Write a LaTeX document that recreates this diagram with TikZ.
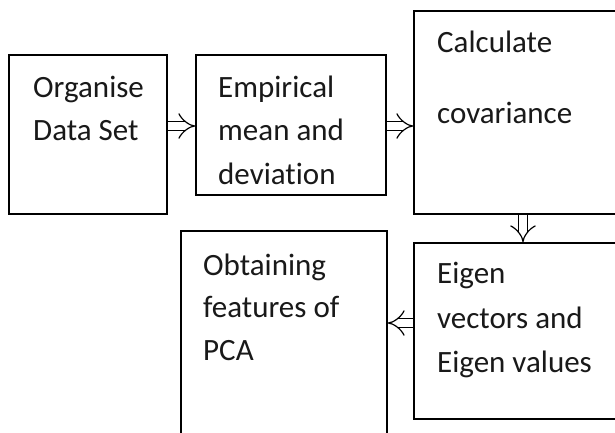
\documentclass[tikz,border=0pt]{standalone}
\usepackage{fontspec}
\setmainfont[Ligatures=NoCommon]{Carlito}
\usetikzlibrary{arrows.meta}
\begin{document}
\begin{tikzpicture}[x=1pt,y=-1pt,
  box/.style={draw=black, line width=1.6pt, rectangle, inner sep=0pt},
  lbl/.style={anchor=base west, inner sep=0pt, font=\fontsize{31}{31}\selectfont, text=black!90},
  dbl/.style={draw=black, line width=1.2pt, double=white, double distance=8pt, -{Implies[length=8pt,width=18pt]}}]
\clip (0,0) rectangle (615,432);
\fill[white] (0,0) rectangle (615,432);
% boxes
\node[box, minimum width=158pt, minimum height=159pt] (b1) at (88,134.5) {};
\node[box, minimum width=190pt, minimum height=140pt] (b2) at (291,125) {};
\node[box, minimum width=226pt, minimum height=203pt] (b3) at (527,112.5) {};
\node[box, minimum width=226pt, minimum height=176pt] (b4) at (527,331) {};
\node[box, minimum width=206pt, minimum height=229pt] (b5) at (284,345.5) {};
% texts
\node[lbl] (t1a) at (33,97) {Organise};
\node[lbl] (t1b) at (33,140) {Data Set};
\node[lbl] (t2a) at (218,97) {Empirical};
\node[lbl] (t2b) at (218,140) {mean and};
\node[lbl] (t2c) at (218,184) {deviation};
\node[lbl] (t3a) at (437,52) {Calculate};
\node[lbl] (t3b) at (437,123) {covariance};
\node[lbl] (t4a) at (437,283) {Eigen};
\node[lbl] (t4b) at (437,328) {vectors and};
\node[lbl] (t4c) at (437,372) {Eigen values};
\node[lbl] (t5a) at (203,275) {Obtaining};
\node[lbl] (t5b) at (203,317) {features of};
\node[lbl] (t5c) at (203,360) {PCA};
% arrows
\coordinate (c1) at (0,126);
\coordinate (c3) at (523,0);
\coordinate (c4) at (0,323);
\draw[dbl] (b1.east |- c1) -- (b2.west |- c1);
\draw[dbl] (b2.east |- c1) -- (b3.west |- c1);
\draw[dbl] (b3.south -| c3) -- (b4.north -| c3);
\draw[dbl] (b4.west |- c4) -- (b5.east |- c4);
\end{tikzpicture}
\end{document}
